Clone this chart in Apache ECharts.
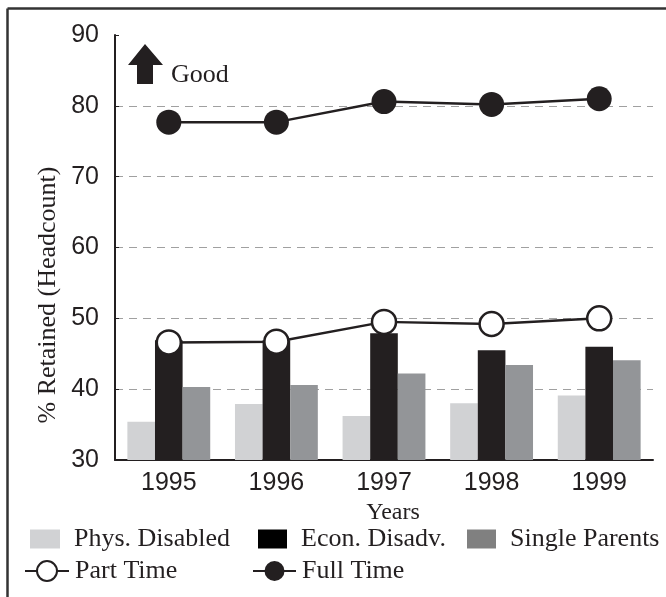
<!DOCTYPE html>
<html>
<head>
<meta charset="utf-8">
<script src="https://cdn.jsdelivr.net/npm/echarts@6/dist/echarts.min.js"></script>
<style>
  html, body { margin: 0; padding: 0; background: #fff; }
  #chart { width: 666px; height: 597px; }
</style>
</head>
<body>
<div id="chart"></div>
<script>
// data
const years = ['1995', '1996', '1997', '1998', '1999']
const physDisabled = [35.4, 37.9, 36.2, 38.0, 39.1]
const econDisadv = [46.9, 46.9, 47.9, 45.5, 46.0]
const singleParents = [40.3, 40.6, 42.2, 43.4, 44.1]
const partTime = [46.6, 46.7, 49.5, 49.2, 50.0]
const fullTime = [77.7, 77.7, 80.6, 80.2, 81.0]
const yTicks = [30, 40, 50, 60, 70, 80, 90]

const ink = '#231f20'
const serif = '"Liberation Serif", "Times New Roman", serif'
const sans = '"Liberation Sans", Arial, sans-serif'

const chart = echarts.init(document.getElementById('chart'))

// one legend per item so each one sits where the reference has it
function legendItem(name, left, top, w, h, color) {
  const item = { name: name }
  if (color) {
    item.itemStyle = { color: color }
    item.icon = 'rect'
  }
  return {
    data: [item],
    left: left,
    top: top,
    orient: 'horizontal',
    itemWidth: w,
    itemHeight: h,
    padding: 0,
    selectedMode: false,
    textStyle: {
      fontFamily: serif,
      fontSize: 26,
      color: ink,
      lineHeight: 30,
      padding: color ? [0, 0, 0, 9] : [0, 0, 0, 1]
    }
  }
}

chart.setOption({
  animation: false,
  backgroundColor: '#fff',
  grid: {
    left: 115,
    right: 13,
    top: 35,
    bottom: 137
  },
  legend: [
    legendItem('Phys. Disabled', 30, 524, 30, 19, '#d1d2d4'),
    legendItem('Econ. Disadv.', 258, 524, 29, 19, '#000'),
    legendItem('Single Parents', 467, 524, 29, 19, '#808080'),
    legendItem('Part Time', 24, 556, 44, 25),
    legendItem('Full Time', 252, 556, 43, 25)
  ],
  xAxis: {
    type: 'category',
    data: years,
    name: 'Years',
    nameLocation: 'middle',
    nameGap: 37,
    nameTextStyle: {
      fontFamily: serif,
      fontSize: 24,
      color: ink,
      padding: [0, 0, 0, 18]
    },
    axisLine: { lineStyle: { color: ink, width: 2 } },
    axisTick: { show: false },
    axisLabel: {
      fontFamily: sans,
      fontSize: 25,
      color: ink,
      margin: 11
    }
  },
  yAxis: {
    type: 'value',
    min: yTicks[0],
    max: yTicks[yTicks.length - 1],
    interval: 10,
    axisLine: { show: true, lineStyle: { color: ink, width: 2 } },
    axisTick: { show: true, inside: true, length: 4, lineStyle: { color: ink, width: 1 } },
    axisLabel: {
      fontFamily: sans,
      fontSize: 25,
      color: ink,
      margin: 16
    },
    splitLine: {
      show: true,
      lineStyle: {
        // no grid line on the 90 tick
        color: ['#a0a0a0', '#a0a0a0', '#a0a0a0', '#a0a0a0', '#a0a0a0', '#a0a0a0', 'rgba(0,0,0,0)'],
        type: [8, 6],
        width: 1.2
      }
    }
  },
  series: [
    {
      name: 'Phys. Disabled',
      type: 'bar',
      data: physDisabled,
      barGap: '0%',
      barCategoryGap: '23%',
      itemStyle: { color: '#d1d2d4' }
    },
    {
      name: 'Econ. Disadv.',
      type: 'bar',
      data: econDisadv,
      barGap: '0%',
      barCategoryGap: '23%',
      itemStyle: { color: ink }
    },
    {
      name: 'Single Parents',
      type: 'bar',
      data: singleParents,
      barGap: '0%',
      barCategoryGap: '23%',
      itemStyle: { color: '#939598' }
    },
    {
      name: 'Part Time',
      type: 'line',
      data: partTime,
      symbol: 'circle',
      symbolSize: 24,
      z: 5,
      lineStyle: { color: ink, width: 2.5 },
      itemStyle: { color: '#fff', borderColor: ink, borderWidth: 2.5 }
    },
    {
      name: 'Full Time',
      type: 'line',
      data: fullTime,
      symbol: 'circle',
      symbolSize: 25,
      z: 5,
      lineStyle: { color: ink, width: 2.5 },
      itemStyle: { color: ink, borderColor: ink, borderWidth: 0 }
    }
  ],
  graphic: [
    {
      type: 'text',
      x: 48,
      y: 295,
      rotation: Math.PI / 2,
      style: {
        text: '% Retained (Headcount)',
        font: '26px ' + serif,
        fill: ink,
        textAlign: 'center',
        textVerticalAlign: 'middle'
      }
    },
    {
      type: 'polygon',
      shape: {
        points: [[145, 44], [163, 65], [153, 65], [153, 84], [137, 84], [137, 65], [128, 65]]
      },
      style: { fill: ink }
    },
    {
      type: 'text',
      x: 171,
      y: 75,
      style: {
        text: 'Good',
        font: '26px ' + serif,
        fill: ink,
        textAlign: 'left',
        textVerticalAlign: 'middle'
      }
    },
    {
      type: 'line',
      shape: { x1: 7.5, y1: 8.5, x2: 7.5, y2: 597 },
      style: { stroke: '#333', lineWidth: 2.5 }
    },
    {
      type: 'line',
      shape: { x1: 7.5, y1: 8.5, x2: 666, y2: 8.5 },
      style: { stroke: '#333', lineWidth: 2.5 }
    }
  ]
})
</script>
</body>
</html>
